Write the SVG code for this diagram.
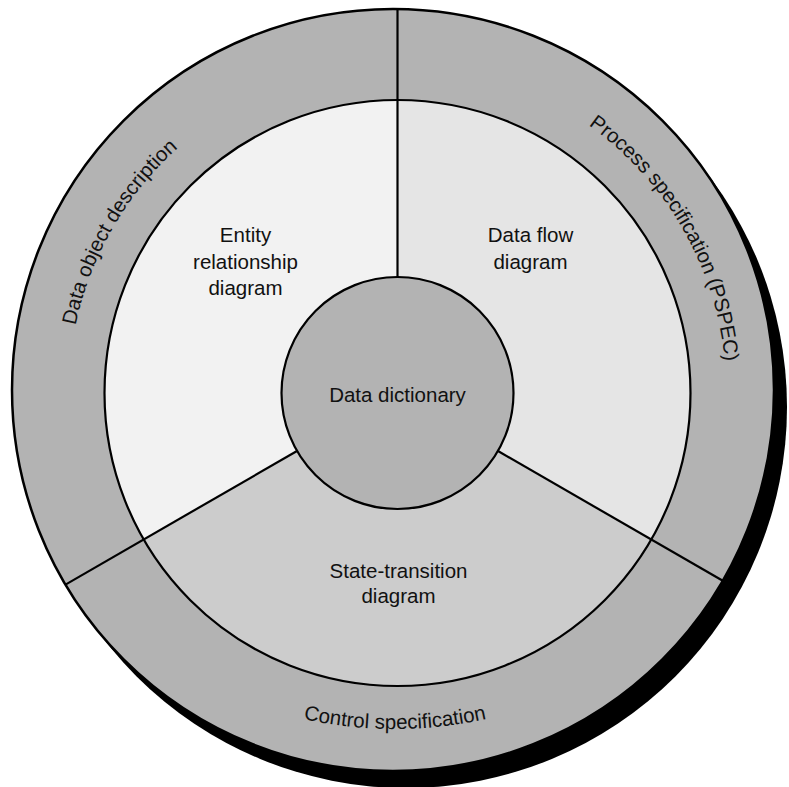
<svg xmlns="http://www.w3.org/2000/svg" width="789" height="787" viewBox="0 0 789 787">
  <style>
    .lbl { font-family: "Liberation Sans", Arial, sans-serif; font-size: 20.5px; fill: #111; text-anchor: middle; }
    .arc { font-family: "Liberation Sans", Arial, sans-serif; font-size: 20.5px; fill: #111; }
    .edge { stroke: #000; stroke-width: 2.2; fill: none; }
  </style>
  <defs>
    <path id="pLeft" d="M 112.6 557.5 A 329 329 0 0 1 397.5 64"/>
    <path id="pRight" d="M 397.5 64 A 329 329 0 0 1 682.4 557.5"/>
    <path id="pBottom" d="M 145 646.5 A 420 420 0 0 0 645 646.5"/>
  </defs>
  <rect width="789" height="787" fill="#fff"/>
  <circle id="shadow" cx="406" cy="407" r="381" fill="#000"/>
  <g id="outer-ring">
    <circle cx="393" cy="390" r="381" fill="#b3b3b3" stroke="#000" stroke-width="2.5"/>
    <text class="arc"><textPath href="#pLeft" startOffset="50%" text-anchor="middle">Data object description</textPath></text>
    <text class="arc"><textPath href="#pRight" startOffset="50%" text-anchor="middle">Process specification (PSPEC)</textPath></text>
    <text class="arc"><textPath href="#pBottom" startOffset="50%" text-anchor="middle">Control specification</textPath></text>
  </g>
  <g id="entity-relationship">
    <path d="M 397.5 393 L 143.8 539.5 A 293 293 0 0 1 397.5 100 Z" fill="#f2f2f2"/>
    <text class="lbl" x="245.5" y="241.7">Entity</text>
    <text class="lbl" x="245.5" y="269.3">relationship</text>
    <text class="lbl" x="245.5" y="295">diagram</text>
  </g>
  <g id="data-flow">
    <path d="M 397.5 393 L 397.5 100 A 293 293 0 0 1 651.2 539.5 Z" fill="#e5e5e5"/>
    <text class="lbl" x="530.5" y="241.7">Data flow</text>
    <text class="lbl" x="530.5" y="269">diagram</text>
  </g>
  <g id="state-transition">
    <path d="M 397.5 393 L 651.2 539.5 A 293 293 0 0 1 143.8 539.5 Z" fill="#cccccc"/>
    <text class="lbl" x="398.5" y="578.3">State-transition</text>
    <text class="lbl" x="398.5" y="603.3">diagram</text>
  </g>
  <circle class="edge" cx="397.5" cy="393" r="293"/>
  <g id="dividers">
    <line class="edge" x1="397.5" y1="9" x2="397.5" y2="277"/>
    <line class="edge" x1="297" y1="451" x2="65.5" y2="584.6"/>
    <line class="edge" x1="498" y1="451" x2="722.8" y2="580.8"/>
  </g>
  <g id="data-dictionary">
    <circle cx="397.5" cy="393" r="116" fill="#b3b3b3" stroke="#000" stroke-width="2.2"/>
    <text class="lbl" x="397.5" y="402">Data dictionary</text>
  </g>
</svg>
